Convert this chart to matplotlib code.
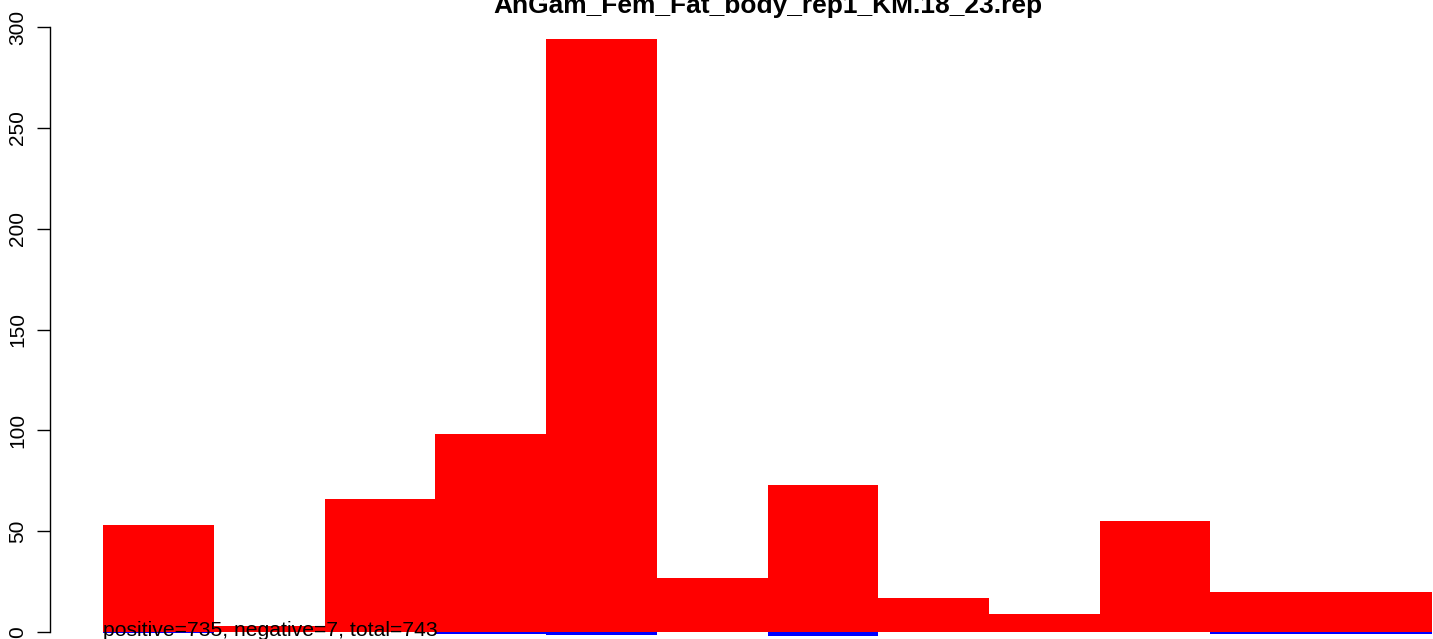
import numpy as np
import matplotlib
matplotlib.use("Agg")
import matplotlib.pyplot as plt

plt.rcParams['font.family'] = ['Liberation Sans', 'DejaVu Sans']

title = "AnGam_Fem_Fat_body_rep1_KM.18_23.rep"
pos = [53, 3, 66, 98, 294, 27, 73, 17, 9, 55, 20, 20]
neg = [0.5, 0, 0, 1, 1.5, 0, 2, 0, 0, 0, 1, 1]
yticks = [0, 50, 100, 150, 200, 250, 300]
note = "positive=735, negative=7, total=743"

W, H = 1433, 639
fig = plt.figure(figsize=(W / 100, H / 100), dpi=100)
# plot region runs past the right edge of the figure, as in the original
x0, x1 = 50, 1485
ax = fig.add_axes([x0 / W, 0, (x1 - x0) / W, 1])
ax.set_xlim(-0.48, 12.48)
ppu = (632 - 27) / 300.0
ax.set_ylim(-(H - 632) / ppu, 632 / ppu)

x = np.arange(len(pos))
ax.bar(x, -np.array(neg), width=1.0, align='edge', color='blue', linewidth=0)
ax.bar(x, pos, width=1.0, align='edge', color='red', linewidth=0)

for s in ['top', 'right', 'bottom']:
    ax.spines[s].set_visible(False)
ax.spines['left'].set_bounds(0, 300)
ax.spines['left'].set_linewidth(1.0)
ax.set_xticks([])
ax.set_yticks(yticks)
ax.set_yticklabels([str(v) for v in yticks], rotation=90, va='center', fontsize=15)
ax.tick_params(axis='y', length=9.4, width=1.0, pad=7)

ax.text(0, -4 / ppu, note, fontsize=15.2, ha='left', va='baseline', color='black')
fig.text(768 / W, 1 - 13 / H, title, fontsize=19, fontweight='bold',
         ha='center', va='baseline')

fig.savefig("out.png", dpi=100)
